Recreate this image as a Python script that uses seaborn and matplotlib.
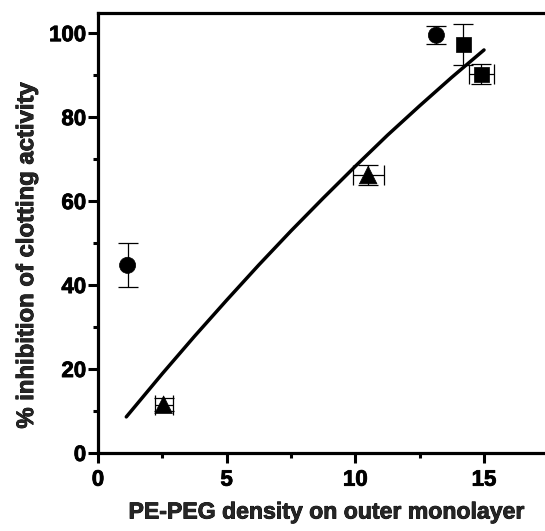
import matplotlib
matplotlib.use("Agg")
import matplotlib.pyplot as plt
import matplotlib.patheffects as pe
from matplotlib.ticker import MultipleLocator
import pandas as pd
import seaborn as sns

# Measured inhibition for each liposome preparation
group = ["circle", "circle", "triangle", "triangle", "square", "square"]
density = [1.15, 13.15, 2.55, 10.5, 14.2, 14.9]
inhibition = [44.7, 99.5, 11.5, 66.2, 97.3, 90.2]
density_err = [0.0, 0.0, 0.35, 0.6, 0.0, 0.5]
inhibition_err = [5.2, 2.2, 1.5, 2.4, 5.0, 2.4]

# Fitted trend across the density range
fit_density = [1.1, 2.5, 3.75, 5.0, 6.25, 7.5, 8.75, 10.0, 11.25, 12.5, 13.75, 15.0]
fit_inhibition = [8.6, 18.9, 27.8, 36.4, 44.8, 52.9, 60.7, 68.3, 75.7, 82.7, 89.5, 96.0]

x_ticks = [0, 5, 10, 15]
y_ticks = [0, 20, 40, 60, 80, 100]

points = pd.DataFrame({"group": group, "density": density, "inhibition": inhibition,
                       "xerr": density_err, "yerr": inhibition_err})
fit = pd.DataFrame({"density": fit_density, "inhibition": fit_inhibition})

sns.set_style("ticks")
plt.rcParams["font.family"] = ["Liberation Sans", "DejaVu Sans"]
plt.rcParams["font.weight"] = "bold"

fig = plt.figure(figsize=(5.45, 5.31), dpi=100)
ax = fig.add_axes([0.1798, 0.1469, 0.8202, 0.8286])

sns.lineplot(data=fit, x="density", y="inhibition", color="black", linewidth=2.5,
             ax=ax, zorder=2)

for _, r in points.iterrows():
    ax.errorbar(r["density"], r["inhibition"],
                xerr=r["xerr"] if r["xerr"] > 0 else None,
                yerr=r["yerr"] if r["yerr"] > 0 else None,
                fmt="none", ecolor="black", elinewidth=0.9, capsize=7, capthick=0.9,
                zorder=3)

sns.scatterplot(data=points, x="density", y="inhibition", style="group", size="group",
                markers={"circle": "o", "triangle": "^", "square": "s"},
                sizes={"circle": 135, "triangle": 160, "square": 120},
                color="black", edgecolor="black", linewidth=0.5, legend=False,
                ax=ax, zorder=4)

ax.set_xlim(0, 17.37)
ax.set_ylim(0, 104.8)
ax.set_xticks(x_ticks)
ax.set_yticks(y_ticks)
ax.xaxis.set_minor_locator(MultipleLocator(2.5))
ax.yaxis.set_minor_locator(MultipleLocator(10))

for side in ["left", "bottom", "top"]:
    ax.spines[side].set_linewidth(2.3)
    ax.spines[side].set_color("black")
ax.spines["right"].set_visible(False)

heavy = [pe.withStroke(linewidth=0.6, foreground="black")]

ax.tick_params(which="major", length=7, width=2.2, color="black", labelsize=16,
               labelcolor="black")
ax.tick_params(which="minor", length=3.5, width=2.2, color="black")
ax.tick_params(axis="y", which="major", pad=1.5)
ax.tick_params(axis="x", which="major", pad=5)
ax.tick_params(top=False, right=False, which="both")
for lab in ax.get_xticklabels() + ax.get_yticklabels():
    lab.set_fontweight("bold")
    lab.set_path_effects(heavy)

ax.set_xlabel("PE-PEG density on outer monolayer", fontsize=16.6, fontweight="bold",
              path_effects=heavy)
ax.set_ylabel("% inhibition of clotting activity", fontsize=17.2, fontweight="bold",
              path_effects=heavy)
ax.xaxis.set_label_coords(0.508, -0.108)
ax.yaxis.set_label_coords(-0.134, 0.448)

fig.savefig("out.png", dpi=100)
